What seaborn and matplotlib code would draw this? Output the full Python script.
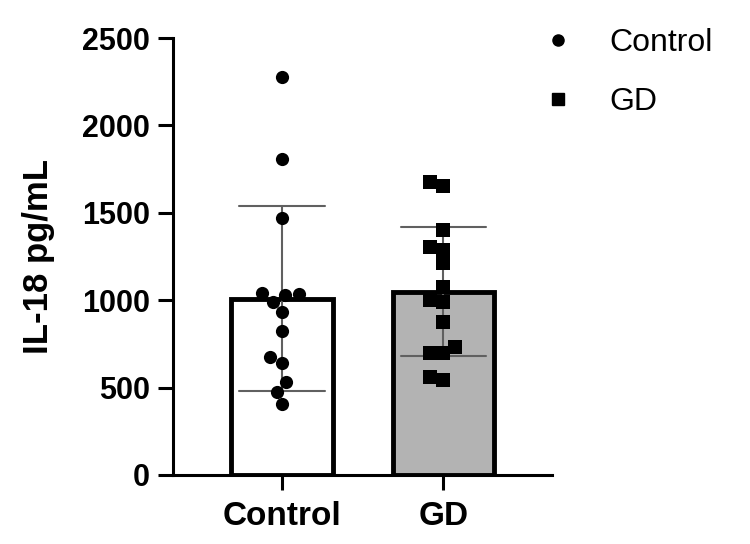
import pandas as pd
import seaborn as sns
import matplotlib.pyplot as plt
from matplotlib.lines import Line2D

groups = ['Control', 'GD']
control_vals = [2278, 1806, 1472, 1039, 1030, 1034, 991, 934, 824, 673, 639, 530, 473, 404]
gd_vals = [1678, 1653, 1401, 1306, 1287, 1211, 1077, 991, 1001, 877, 734, 696, 696, 543, 562]
bar_colors = ['white', '#b3b3b3']
markers = ['o', 's']
y_ticks = [0, 500, 1000, 1500, 2000, 2500]

df = pd.DataFrame({
    'group': ['Control'] * len(control_vals) + ['GD'] * len(gd_vals),
    'IL18': control_vals + gd_vals,
})

sns.set_style('ticks')
plt.rcParams['font.family'] = ['Liberation Sans', 'DejaVu Sans']
plt.rcParams['text.color'] = 'black'
plt.rcParams['axes.labelcolor'] = 'black'
plt.rcParams['xtick.color'] = 'black'
plt.rcParams['ytick.color'] = 'black'

fig = plt.figure(figsize=(7.5, 5.44), dpi=100)
ax = fig.add_axes([0.231, 0.127, 0.505, 0.803])

sns.barplot(data=df, x='group', y='IL18', order=groups, hue='group',
            palette=dict(zip(groups, bar_colors)), legend=False,
            edgecolor='black', linewidth=3.5, width=0.63,
            errorbar='sd', capsize=0.53,
            err_kws={'color': '#606060', 'linewidth': 1.5}, ax=ax)

for g, m in zip(groups, markers):
    sub = df[df['group'] == g]
    sns.swarmplot(data=sub, x='group', y='IL18', order=groups, marker=m,
                  color='black', size=9.5, ax=ax, zorder=3)

ax.set_xlim(-0.676, 1.674)
ax.set_ylim(0, 2500)
ax.set_yticks(y_ticks)
ax.set_xlabel('')
ax.set_ylabel('IL-18 pg/mL', fontsize=25, fontweight='bold', labelpad=19)

for s in ['top', 'right']:
    ax.spines[s].set_visible(False)
for s in ['left', 'bottom']:
    ax.spines[s].set_linewidth(2.2)
    ax.spines[s].set_color('black')

ax.tick_params(axis='y', length=11, width=2.2, pad=6, labelsize=22)
ax.tick_params(axis='x', length=11, width=2.2, pad=8, labelsize=24)
for lab in ax.get_xticklabels() + ax.get_yticklabels():
    lab.set_fontweight('bold')

handles = [Line2D([], [], marker=m, linestyle='none', color='black', markersize=8)
           for m in markers]
fig.legend(handles, groups, loc='upper left', bbox_to_anchor=(0.706, 0.972),
           frameon=False, fontsize=23, handlelength=1, handletextpad=1.1,
           labelspacing=0.9, borderaxespad=0)

fig.savefig('out.png', dpi=100)
